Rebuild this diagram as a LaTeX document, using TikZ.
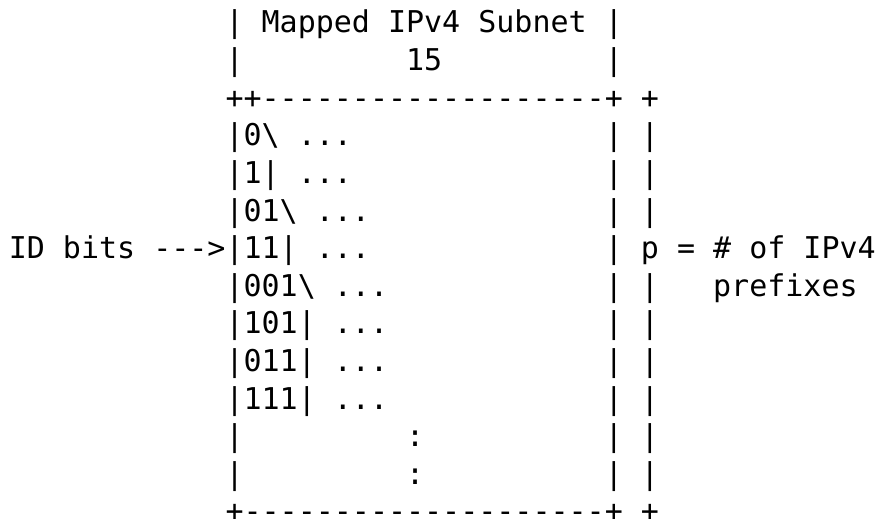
\documentclass[tikz,border=0pt]{standalone}
\usepackage{fontspec}
\setmonofont{DejaVu Sans Mono}
\newcommand\asciiseg[4]{\node[txt] (#1) at ({8.8+#2*18.06},{33+(#3-1)*37.6}) {#4};}
\begin{document}
\begin{tikzpicture}[x=1pt,y=-1pt,
  txt/.style={inner sep=0pt, outer sep=0pt, anchor=base west,
    font=\ttfamily\fontsize{30}{36}\selectfont, text=black}]
\useasboundingbox (0,0) rectangle (879,519);
\fill[white] (0,0) rectangle (879,519);
% row 1-2: header
\asciiseg{hdr}{12}{1}{| Mapped IPv4 Subnet |}
\asciiseg{hdrl}{12}{2}{|}
\asciiseg{hdrn}{22}{2}{15}
\asciiseg{hdrr}{33}{2}{|}
% row 3: top border
\asciiseg{top}{12}{3}{++-------------------+}
\asciiseg{topp}{35}{3}{+}
% rows 4-13
\asciiseg{r4}{12}{4}{|0\textbackslash{} ...}
\asciiseg{r4r}{33}{4}{| |}
\asciiseg{r5}{12}{5}{|1| ...}
\asciiseg{r5r}{33}{5}{| |}
\asciiseg{r6}{12}{6}{|01\textbackslash{} ...}
\asciiseg{r6r}{33}{6}{| |}
\asciiseg{r7}{0}{7}{ID bits --->|11| ...}
\asciiseg{r7r}{33}{7}{| p = \# of IPv4}
\asciiseg{r8}{12}{8}{|001\textbackslash{} ...}
\asciiseg{r8r}{33}{8}{| |}
\asciiseg{r8p}{39}{8}{prefixes}
\asciiseg{r9}{12}{9}{|101| ...}
\asciiseg{r9r}{33}{9}{| |}
\asciiseg{r10}{12}{10}{|011| ...}
\asciiseg{r10r}{33}{10}{| |}
\asciiseg{r11}{12}{11}{|111| ...}
\asciiseg{r11r}{33}{11}{| |}
\asciiseg{r12}{12}{12}{|}
\asciiseg{r12c}{22}{12}{:}
\asciiseg{r12r}{33}{12}{| |}
\asciiseg{r13}{12}{13}{|}
\asciiseg{r13c}{22}{13}{:}
\asciiseg{r13r}{33}{13}{| |}
% row 14: bottom border
\asciiseg{bot}{12}{14}{+--------------------+}
\asciiseg{botp}{35}{14}{+}
\end{tikzpicture}
\end{document}
